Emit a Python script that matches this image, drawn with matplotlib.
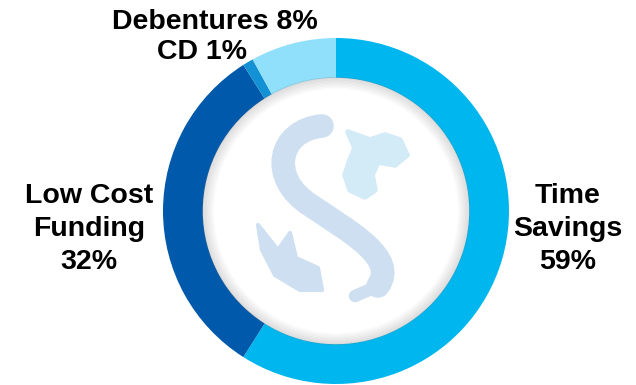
import matplotlib.pyplot as plt
import numpy as np
from matplotlib.patches import Circle, Polygon, PathPatch
from matplotlib.path import Path

# funding mix (%), clockwise from 12 o'clock
categories = ["Time Savings", "Low Cost Funding", "CD", "Debentures"]
values = [59, 32, 1, 8]
colors = ["#00b6ee", "#0059aa", "#1391d5", "#90e0fc"]

plt.rcParams['font.family'] = ['Liberation Sans', 'DejaVu Sans']

W, H = 636, 385
fig = plt.figure(figsize=(W / 100, H / 100), dpi=100)

# donut centre / radius in pixels
cx, cy, R = 336, 211, 173
ax = fig.add_axes([(cx - R) / W, (H - cy - R) / H, 2 * R / W, 2 * R / H])
ax.pie(values, colors=colors, startangle=90, counterclock=False,
       radius=1, wedgeprops=dict(width=0.23, linewidth=0))
ax.set_xlim(-1, 1)
ax.set_ylim(-1, 1)
ax.set_aspect('equal')
ax.axis('off')

# soft inner shadow along the ring
for i, r in enumerate(np.linspace(0.77, 0.71, 8)):
    ax.add_patch(Circle((0, 0), r, facecolor='none', edgecolor='#6e6e6e',
                        linewidth=1.2, alpha=0.22 * (1 - i / 8)))


def p(x, y):
    # pixel -> data coords of the donut axes
    return ((x - cx) / R, (cy - y) / R)


# faded logo in the middle
verts = [p(322, 126), p(278, 130), p(268, 178), p(310, 205),
         p(350, 232), p(398, 258), p(378, 286)]
codes = [Path.MOVETO, Path.CURVE4, Path.CURVE4, Path.CURVE4,
         Path.CURVE4, Path.CURVE4, Path.CURVE4]
ax.add_patch(PathPatch(Path(verts, codes), facecolor='none', edgecolor='#cddff0',
                       linewidth=17, capstyle='round'))
ax.plot(*zip(p(378, 286), p(355, 296)), color='#cddff0', lw=9,
        solid_capstyle='round')

drop = [(348, 132), (370, 140), (385, 135), (400, 140), (407, 155), (395, 165),
        (378, 162), (372, 175), (375, 190), (365, 197), (350, 190), (345, 175),
        (350, 160), (355, 148)]
ax.add_patch(Polygon([p(*q) for q in drop], closed=True, facecolor='#d3eaf7',
                     edgecolor='#d3eaf7', linewidth=4, joinstyle='round'))
crown = [(258, 225), (278, 250), (290, 233), (296, 258), (318, 268),
         (322, 290), (300, 290), (275, 275), (262, 250)]
ax.add_patch(Polygon([p(*q) for q in crown], closed=True, facecolor='#cddff0',
                     edgecolor='#cddff0', linewidth=3, joinstyle='round'))

# labels
kw = dict(fontsize=20.5, fontweight='bold', color='black', ha='center',
          va='center', linespacing=1.35)
fig.text(568 / W, 1 - 229 / H, "Time\nSavings\n" + f"{values[0]}%", **kw)
fig.text(89 / W, 1 - 229 / H, "Low Cost\nFunding\n" + f"{values[1]}%", **kw)
fig.text(215 / W, 1 - 22 / H, f"{categories[3]} {values[3]}%", **kw)
fig.text(202 / W, 1 - 52 / H, f"{categories[2]} {values[2]}%", **kw)

fig.savefig("out.png", dpi=100, facecolor='white')
